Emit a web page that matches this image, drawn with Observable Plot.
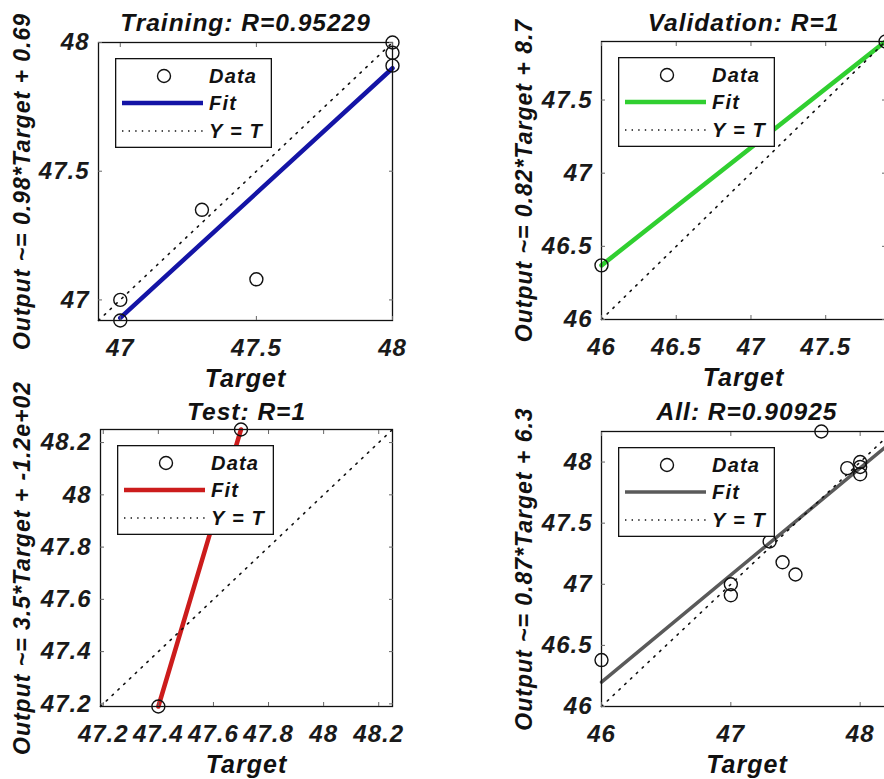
<!DOCTYPE html>
<html>
<head>
<meta charset="utf-8">
<script src="https://cdn.jsdelivr.net/npm/d3@7"></script>
<script src="https://cdn.jsdelivr.net/npm/@observablehq/plot@0.6"></script>
<style>
  html, body { margin: 0; padding: 0; background: #fff; }
  body { width: 884px; height: 779px; overflow: hidden; position: relative; }
  .panel { position: absolute; }
  .panel svg { overflow: visible; max-width: none !important; height: auto; letter-spacing: 1px; }
  .legend { position: absolute; overflow: visible; }
</style>
</head>
<body>
<script>
// ---- Training ----
const trainTarget = [47, 47, 47.3, 47.5, 48, 48, 48];
const trainOutput = [47.0, 46.92, 47.35, 47.08, 48.0, 47.96, 47.91];
const trainFitX = [47, 48];
const trainFitY = [46.93, 47.9];
const trainLimits = [46.92, 48];
const trainTicks = [47, 47.5, 48];

// ---- Validation ----
const valTarget = [46, 47.9];
const valOutput = [46.37, 47.9];
const valFitX = [46, 47.9];
const valFitY = [46.37, 47.9];
const valLimits = [46, 47.9];
const valTicks = [46, 46.5, 47, 47.5];

// ---- Test ----
const testTarget = [47.4, 47.7];
const testOutput = [47.19, 48.25];
const testFitX = [47.4, 47.7];
const testFitY = [47.19, 48.25];
const testLimits = [47.19, 48.25];
const testTicks = [47.2, 47.4, 47.6, 47.8, 48, 48.2];

// ---- All ----
const allTarget = [46, 47, 47, 47.3, 47.4, 47.5, 47.7, 47.9, 48, 48, 48];
const allOutput = [46.38, 47.0, 46.91, 47.35, 47.18, 47.08, 48.25, 47.95, 48.0, 47.96, 47.9];
const allFitX = [46, 48.25];
const allFitY = [46.2, 48.17];
const allLimits = [46, 48.25];
const allTicksX = [46, 47, 48];
const allTicksY = [46, 46.5, 47, 47.5, 48];

const titles = ["Training: R=0.95229", "Validation: R=1", "Test: R=1", "All: R=0.90925"];
const yLabels = [
  "Output ~= 0.98*Target + 0.69",
  "Output ~= 0.82*Target + 8.7",
  "Output ~= 3.5*Target + -1.2e+02",
  "Output ~= 0.87*Target + 6.3"
];
const xLabel = "Target";
const legendLabels = ["Data", "Fit", "Y = T"];
const fitColors = ["#1414a6", "#30cf30", "#cc1c1c", "#5a5a5a"];

const FONT = "'Liberation Sans', Arial, Helvetica, sans-serif";
const fmt = d => String(d);

function panel(cfg) {
  const pts = cfg.target.map((t, i) => ({t, o: cfg.output[i]}));
  const fit = cfg.fitX.map((x, i) => ({x, y: cfg.fitY[i]}));
  const ident = cfg.limits.map(v => ({x: v, y: v}));
  const plot = Plot.plot({
    width: cfg.width,
    height: cfg.height,
    marginLeft: cfg.ml, marginRight: cfg.mr, marginTop: cfg.mt, marginBottom: cfg.mb,
    x: {domain: cfg.limits},
    y: {domain: cfg.limits},
    style: {fontFamily: FONT, fontWeight: "bold", fontStyle: "italic", fontSize: "24px", color: "#111", background: "transparent", overflow: "visible", maxWidth: "none", letterSpacing: "1px"},
    marks: [
      Plot.line(fit, {x: "x", y: "y", stroke: cfg.color, strokeWidth: cfg.fitWidth}),
      Plot.line(ident, {x: "x", y: "y", stroke: "#111", strokeWidth: 1.6, strokeDasharray: "1.6,6.4"}),
      Plot.frame({stroke: "#111", strokeWidth: 1.3}),
      Plot.axisX(cfg.xTicks, {anchor: "bottom", tickSize: 0, tickPadding: 18, label: null, tickFormat: fmt, fill: "#1a1a1a", fontSize: 24}),
      Plot.axisY(cfg.yTicks, {anchor: "left", tickSize: 0, tickPadding: 9, label: null, tickFormat: fmt, fill: "#1a1a1a", fontSize: 24}),
      Plot.axisX(cfg.xTicks, {anchor: "bottom", tickSize: -4, tickFormat: () => "", label: null, stroke: "#666"}),
      Plot.axisX(cfg.xTicks, {anchor: "top", tickSize: -4, tickFormat: () => "", label: null, stroke: "#666"}),
      Plot.axisY(cfg.yTicks, {anchor: "left", tickSize: -4, tickFormat: () => "", label: null, stroke: "#666"}),
      Plot.axisY(cfg.yTicks, {anchor: "right", tickSize: -4, tickFormat: () => "", label: null, stroke: "#666"}),
      Plot.dot(pts, {x: "t", y: "o", r: 6.5, stroke: "#111", strokeWidth: 1.4, fill: "none"}),
      Plot.text([cfg.title], {frameAnchor: "top", dy: cfg.titleDy, text: d => d, fontSize: 24.5, textAnchor: "middle", lineAnchor: "middle", fill: "#111"}),
      Plot.text([xLabel], {frameAnchor: "bottom", dy: 58, text: d => d, fontSize: 25, textAnchor: "middle", lineAnchor: "middle", fill: "#111"}),
      Plot.text([cfg.yLabel], {frameAnchor: "left", dx: cfg.yLabelDx, rotate: -90, text: d => d, fontSize: 23, textAnchor: "middle", lineAnchor: "middle", fill: "#111"})
    ]
  });
  const div = document.createElement("div");
  div.className = "panel";
  div.style.left = cfg.left + "px";
  div.style.top = cfg.top + "px";
  div.style.width = cfg.width + "px";
  div.style.height = cfg.height + "px";
  div.appendChild(plot);
  document.body.appendChild(div);

  // legend box drawn over the plot, like MATLAB's opaque legend
  const lw = 157, lh = 90;
  const lg = d3.create("svg").attr("class", "legend").attr("width", lw).attr("height", lh)
    .style("left", (cfg.left + cfg.ml + 17) + "px").style("top", (cfg.top + cfg.mt + 16) + "px");
  lg.append("rect").attr("x", 0.65).attr("y", 0.65).attr("width", lw - 1.3).attr("height", lh - 1.3)
    .attr("fill", "#fff").attr("stroke", "#111").attr("stroke-width", 1.3);
  lg.append("circle").attr("cx", 49).attr("cy", 18).attr("r", 6.5).attr("fill", "none").attr("stroke", "#111").attr("stroke-width", 1.4);
  lg.append("line").attr("x1", 7).attr("x2", 88).attr("y1", 45).attr("y2", 45).attr("stroke", cfg.color).attr("stroke-width", cfg.fitWidth);
  lg.append("line").attr("x1", 7).attr("x2", 88).attr("y1", 73).attr("y2", 73).attr("stroke", "#111").attr("stroke-width", 1.4).attr("stroke-dasharray", "1.4,5.2");
  legendLabels.forEach((s, i) => {
    lg.append("text").attr("x", 94).attr("y", [25, 52, 80][i]).text(s)
      .attr("font-family", FONT).attr("font-weight", "bold").attr("font-style", "italic")
      .attr("font-size", 20).attr("letter-spacing", "1.2px").attr("fill", "#111");
  });
  document.body.appendChild(lg.node());
}

panel({target: trainTarget, output: trainOutput, fitX: trainFitX, fitY: trainFitY, limits: trainLimits,
  xTicks: trainTicks, yTicks: trainTicks, color: fitColors[0], fitWidth: 4.5,
  title: titles[0], yLabel: yLabels[0],
  left: 0, top: 0, width: 442, height: 390, ml: 98, mr: 50, mt: 42, mb: 70, titleDy: -19, yLabelDx: -76});

panel({target: valTarget, output: valOutput, fitX: valFitX, fitY: valFitY, limits: valLimits,
  xTicks: valTicks, yTicks: valTicks, color: fitColors[1], fitWidth: 4.5,
  title: titles[1], yLabel: yLabels[1],
  left: 442, top: 0, width: 463, height: 390, ml: 159, mr: 20, mt: 41, mb: 71, titleDy: -18, yLabelDx: -77});

panel({target: testTarget, output: testOutput, fitX: testFitX, fitY: testFitY, limits: testLimits,
  xTicks: testTicks, yTicks: testTicks, color: fitColors[2], fitWidth: 4.5,
  title: titles[2], yLabel: yLabels[2],
  left: 0, top: 390, width: 442, height: 389, ml: 100, mr: 50, mt: 39, mb: 73, titleDy: -17, yLabelDx: -78});

panel({target: allTarget, output: allOutput, fitX: allFitX, fitY: allFitY, limits: allLimits,
  xTicks: allTicksX, yTicks: allTicksY, color: fitColors[3], fitWidth: 3.5,
  title: titles[3], yLabel: yLabels[3],
  left: 442, top: 390, width: 470, height: 389, ml: 159, mr: 20, mt: 41, mb: 73, titleDy: -19, yLabelDx: -77});
</script>
</body>
</html>
